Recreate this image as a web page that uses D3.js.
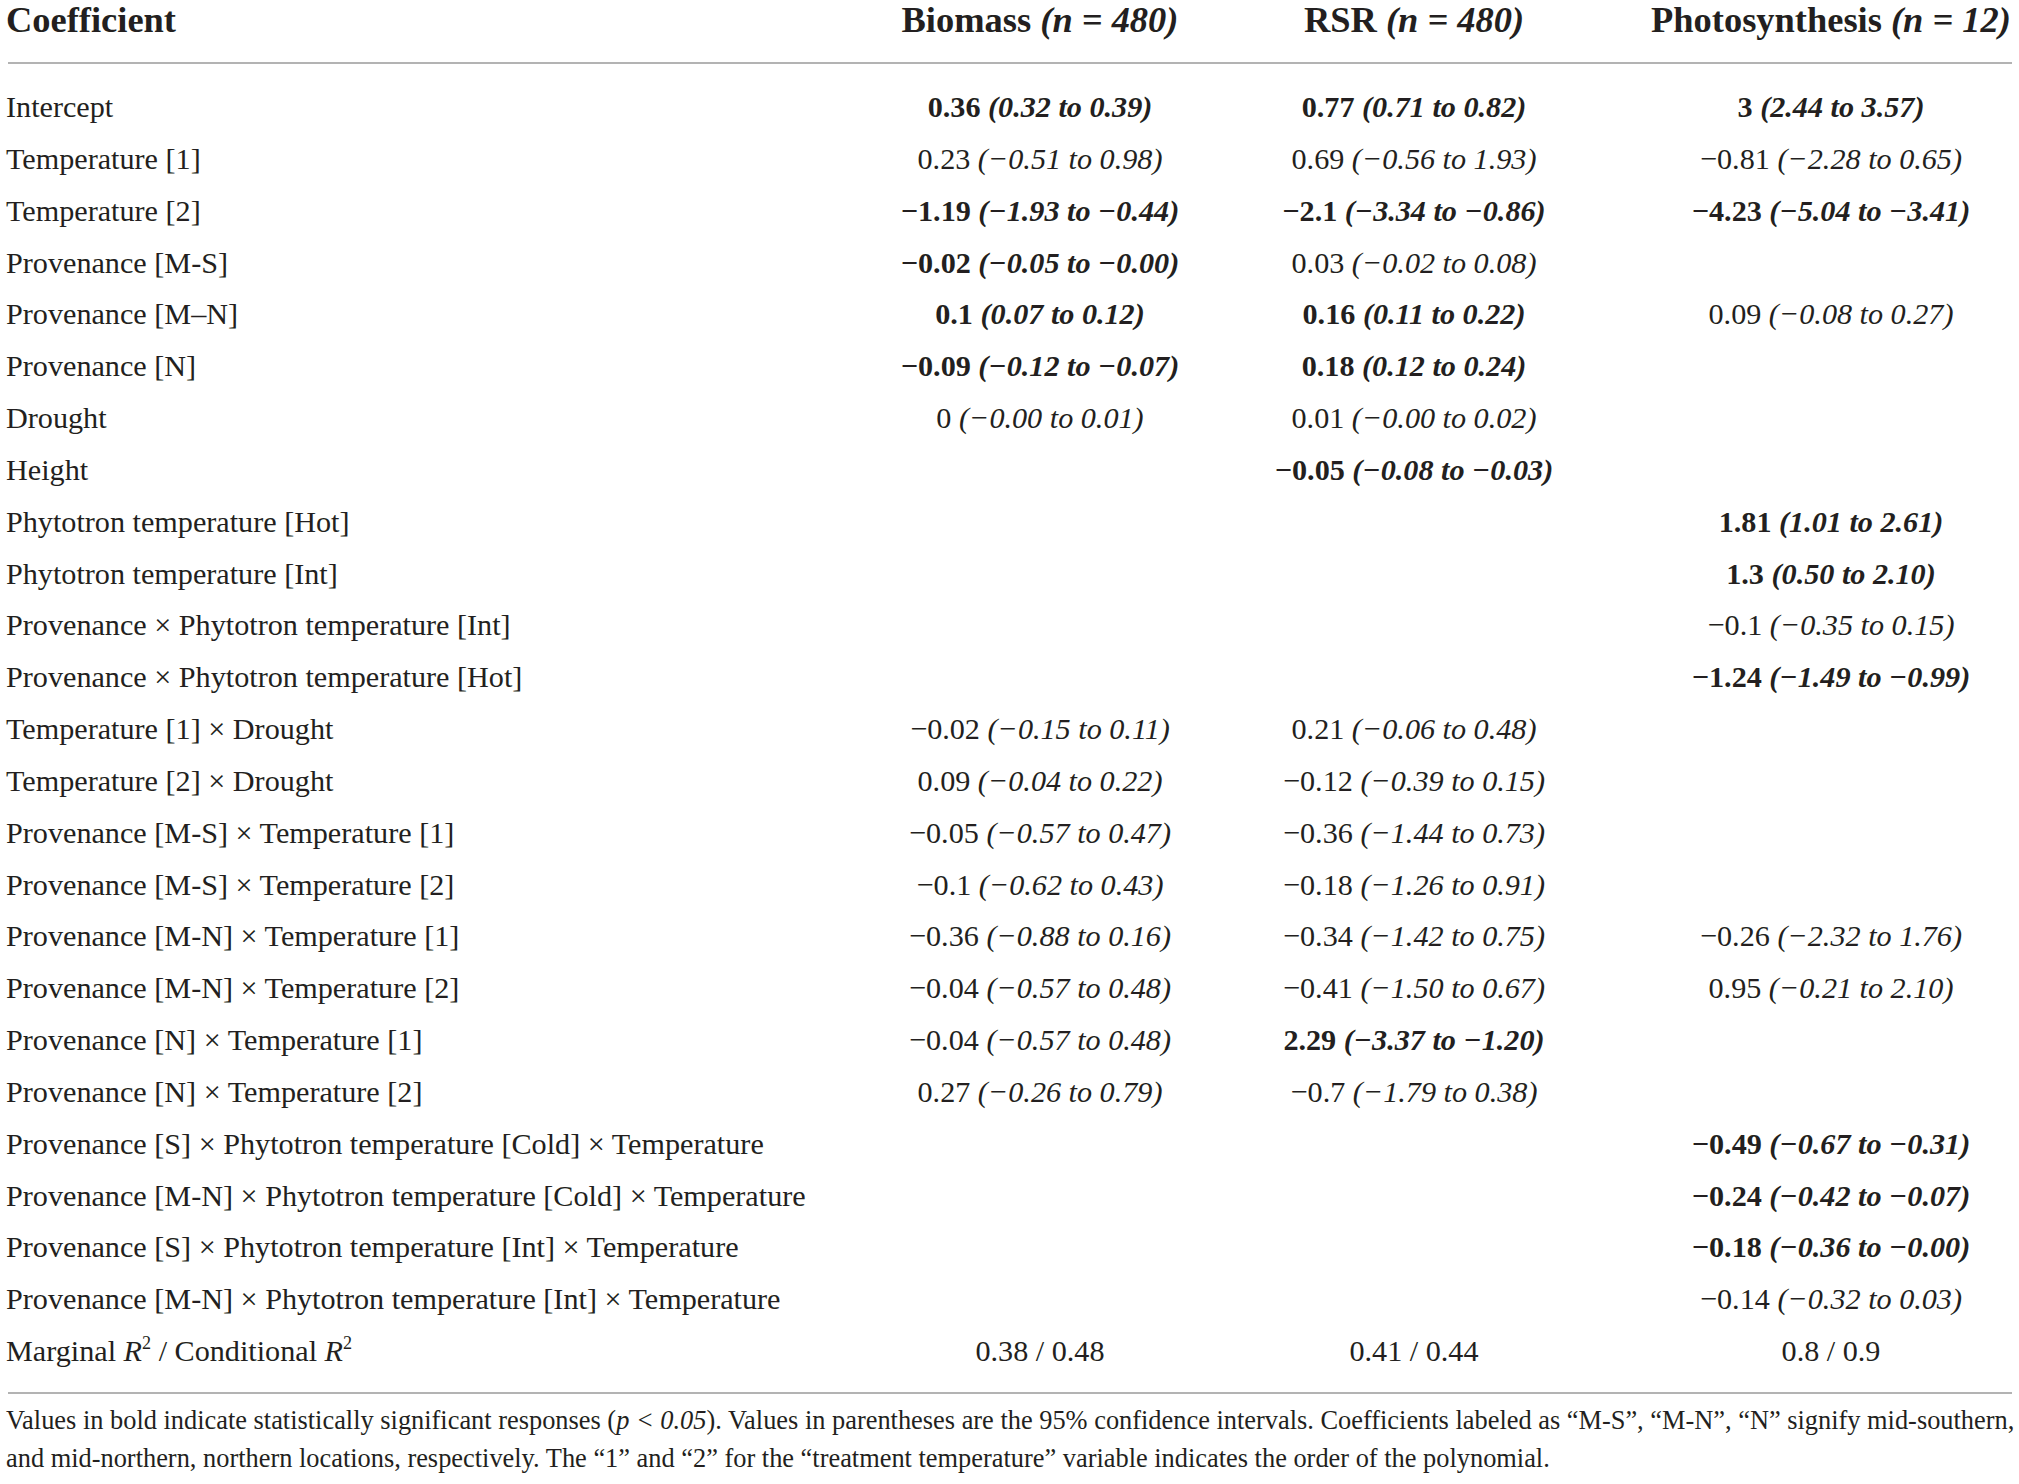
<!DOCTYPE html>
<html>
<head>
<meta charset="utf-8">
<script src="https://cdn.jsdelivr.net/npm/d3@7"></script>
<style>
  body { margin: 0; background: #fff; }
  text { font-family: "Liberation Serif", "Times New Roman", serif; fill: #231f20; }
</style>
</head>
<body>
<div class="canva"></div>
<script>
// row labels (coefficients)
const coefficients = [
  "Intercept",
  "Temperature [1]",
  "Temperature [2]",
  "Provenance [M-S]",
  "Provenance [M\u2013N]",
  "Provenance [N]",
  "Drought",
  "Height",
  "Phytotron temperature [Hot]",
  "Phytotron temperature [Int]",
  "Provenance \u00d7 Phytotron temperature [Int]",
  "Provenance \u00d7 Phytotron temperature [Hot]",
  "Temperature [1] \u00d7 Drought",
  "Temperature [2] \u00d7 Drought",
  "Provenance [M-S] \u00d7 Temperature [1]",
  "Provenance [M-S] \u00d7 Temperature [2]",
  "Provenance [M-N] \u00d7 Temperature [1]",
  "Provenance [M-N] \u00d7 Temperature [2]",
  "Provenance [N] \u00d7 Temperature [1]",
  "Provenance [N] \u00d7 Temperature [2]",
  "Provenance [S] \u00d7 Phytotron temperature [Cold] \u00d7 Temperature",
  "Provenance [M-N] \u00d7 Phytotron temperature [Cold] \u00d7 Temperature",
  "Provenance [S] \u00d7 Phytotron temperature [Int] \u00d7 Temperature",
  "Provenance [M-N] \u00d7 Phytotron temperature [Int] \u00d7 Temperature",
  "Marginal R^2 / Conditional R^2"
];

const columns = ["Biomass", "RSR", "Photosynthesis"];
const sampleSizes = ["480", "480", "12"];

// [estimate, lower CI, upper CI, significant]
const biomass = [
  ["0.36", "0.32", "0.39", 1],
  ["0.23", "\u22120.51", "0.98", 0],
  ["\u22121.19", "\u22121.93", "\u22120.44", 1],
  ["\u22120.02", "\u22120.05", "\u22120.00", 1],
  ["0.1", "0.07", "0.12", 1],
  ["\u22120.09", "\u22120.12", "\u22120.07", 1],
  ["0", "\u22120.00", "0.01", 0],
  null, null, null, null, null,
  ["\u22120.02", "\u22120.15", "0.11", 0],
  ["0.09", "\u22120.04", "0.22", 0],
  ["\u22120.05", "\u22120.57", "0.47", 0],
  ["\u22120.1", "\u22120.62", "0.43", 0],
  ["\u22120.36", "\u22120.88", "0.16", 0],
  ["\u22120.04", "\u22120.57", "0.48", 0],
  ["\u22120.04", "\u22120.57", "0.48", 0],
  ["0.27", "\u22120.26", "0.79", 0],
  null, null, null, null
];

const rsr = [
  ["0.77", "0.71", "0.82", 1],
  ["0.69", "\u22120.56", "1.93", 0],
  ["\u22122.1", "\u22123.34", "\u22120.86", 1],
  ["0.03", "\u22120.02", "0.08", 0],
  ["0.16", "0.11", "0.22", 1],
  ["0.18", "0.12", "0.24", 1],
  ["0.01", "\u22120.00", "0.02", 0],
  ["\u22120.05", "\u22120.08", "\u22120.03", 1],
  null, null, null, null,
  ["0.21", "\u22120.06", "0.48", 0],
  ["\u22120.12", "\u22120.39", "0.15", 0],
  ["\u22120.36", "\u22121.44", "0.73", 0],
  ["\u22120.18", "\u22121.26", "0.91", 0],
  ["\u22120.34", "\u22121.42", "0.75", 0],
  ["\u22120.41", "\u22121.50", "0.67", 0],
  ["2.29", "\u22123.37", "\u22121.20", 1],
  ["\u22120.7", "\u22121.79", "0.38", 0],
  null, null, null, null
];

const photosynthesis = [
  ["3", "2.44", "3.57", 1],
  ["\u22120.81", "\u22122.28", "0.65", 0],
  ["\u22124.23", "\u22125.04", "\u22123.41", 1],
  null,
  ["0.09", "\u22120.08", "0.27", 0],
  null, null, null,
  ["1.81", "1.01", "2.61", 1],
  ["1.3", "0.50", "2.10", 1],
  ["\u22120.1", "\u22120.35", "0.15", 0],
  ["\u22121.24", "\u22121.49", "\u22120.99", 1],
  null, null, null, null,
  ["\u22120.26", "\u22122.32", "1.76", 0],
  ["0.95", "\u22120.21", "2.10", 0],
  null, null,
  ["\u22120.49", "\u22120.67", "\u22120.31", 1],
  ["\u22120.24", "\u22120.42", "\u22120.07", 1],
  ["\u22120.18", "\u22120.36", "\u22120.00", 1],
  ["\u22120.14", "\u22120.32", "0.03", 0]
];

const r2 = ["0.38 / 0.48", "0.41 / 0.44", "0.8 / 0.9"];

const footnote = [
  [["Values in bold indicate statistically significant responses (", 0], ["p < 0.05", 1],
   ["). Values in parentheses are the 95% confidence intervals. Coefficients labeled as \u201cM-S\u201d, \u201cM-N\u201d, \u201cN\u201d signify mid-southern,", 0]],
  [["and mid-northern, northern locations, respectively. The \u201c1\u201d and \u201c2\u201d for the \u201ctreatment temperature\u201d variable indicates the order of the polynomial.", 0]]
];

const W = 2019, H = 1484;
const canvas = d3.select('.canva');
const svg = canvas.append('svg')
  .attr('width', W)
  .attr('height', H);

// measure helper, to size fonts to the reference widths
function measure(str, size, weight) {
  const t = svg.append('text').attr('font-size', size).attr('font-weight', weight || 'normal').text(str);
  const w = t.node().getComputedTextLength();
  t.remove();
  return w;
}
const bodySize = 100 * 800 / measure(coefficients[21], 100);
const headSize = 100 * 170 / measure("Coefficient", 100, 'bold');

const y = d3.scalePoint()
  .domain(d3.range(coefficients.length))
  .range([108, 1352]);

const x = d3.scaleOrdinal()
  .domain(["Coefficient"].concat(columns))
  .range([6, 1040, 1414, 1831]);

// header
const head = svg.append('g').attr('font-size', headSize).attr('font-weight', 'bold');
head.append('text').attr('x', x("Coefficient")).attr('y', 32).text("Coefficient");
head.selectAll('text.col')
  .data(columns)
  .enter().append('text')
  .attr('class', 'col')
  .attr('x', d => x(d))
  .attr('y', 32)
  .attr('text-anchor', 'middle')
  .each(function (d, i) {
    const t = d3.select(this);
    t.append('tspan').text(d + " ");
    t.append('tspan').attr('font-style', 'italic').text("(n = " + sampleSizes[i] + ")");
  });

// rules
svg.append('line')
  .attr('x1', 8).attr('x2', 2012)
  .attr('y1', 63).attr('y2', 63)
  .attr('stroke', '#9a9a9a').attr('stroke-width', 1.5);
svg.append('line')
  .attr('x1', 8).attr('x2', 2012)
  .attr('y1', 1393).attr('y2', 1393)
  .attr('stroke', '#9a9a9a').attr('stroke-width', 1.5);

// row labels
const body = svg.append('g').attr('font-size', bodySize);
body.selectAll('text.label')
  .data(coefficients)
  .enter().append('text')
  .attr('class', 'label')
  .attr('x', x("Coefficient"))
  .attr('y', (d, i) => y(i))
  .attr('dy', '0.3em')
  .each(function (d) {
    const t = d3.select(this);
    let back = null; // shift back to the baseline after a superscript
    d.split(/(R\^2)/).forEach(part => {
      if (!part) return;
      if (part === "R^2") {
        const r = t.append('tspan').attr('font-style', 'italic').text("R");
        if (back) r.attr('dy', back);
        t.append('tspan').attr('font-size', '0.6em').attr('dy', '-0.65em').text("2");
        back = (0.65 * 0.6) + 'em';
      } else {
        const s = t.append('tspan').text(part);
        if (back) { s.attr('dy', back); back = null; }
      }
    });
  });

// cell values
[biomass, rsr, photosynthesis].forEach((series, ci) => {
  const cells = series
    .map((v, i) => ({ v: v, i: i }))
    .filter(d => d.v);
  body.selectAll(null)
    .data(cells)
    .enter().append('text')
    .attr('x', x(columns[ci]))
    .attr('y', d => y(d.i))
    .attr('dy', '0.3em')
    .attr('text-anchor', 'middle')
    .attr('font-weight', d => d.v[3] ? 'bold' : 'normal')
    .each(function (d) {
      const t = d3.select(this);
      t.append('tspan').text(d.v[0] + " ");
      t.append('tspan').attr('font-style', 'italic')
        .text("(" + d.v[1] + " to " + d.v[2] + ")");
    });
});

body.selectAll('text.r2')
  .data(r2)
  .enter().append('text')
  .attr('class', 'r2')
  .attr('x', (d, i) => x(columns[i]))
  .attr('y', y(coefficients.length - 1))
  .attr('dy', '0.3em')
  .attr('text-anchor', 'middle')
  .text(d => d);

// footnote
const footStr = footnote[0].map(p => p[0]).join('');
const footSize = 100 * 2007 / measure(footStr, 100);
const foot = svg.append('g').attr('font-size', footSize);
foot.selectAll('text')
  .data(footnote)
  .enter().append('text')
  .attr('x', 6)
  .attr('y', (d, i) => 1429 + i * 38)
  .each(function (d) {
    const t = d3.select(this);
    d.forEach(p => {
      t.append('tspan').attr('font-style', p[1] ? 'italic' : 'normal').text(p[0]);
    });
  });
</script>
</body>
</html>
